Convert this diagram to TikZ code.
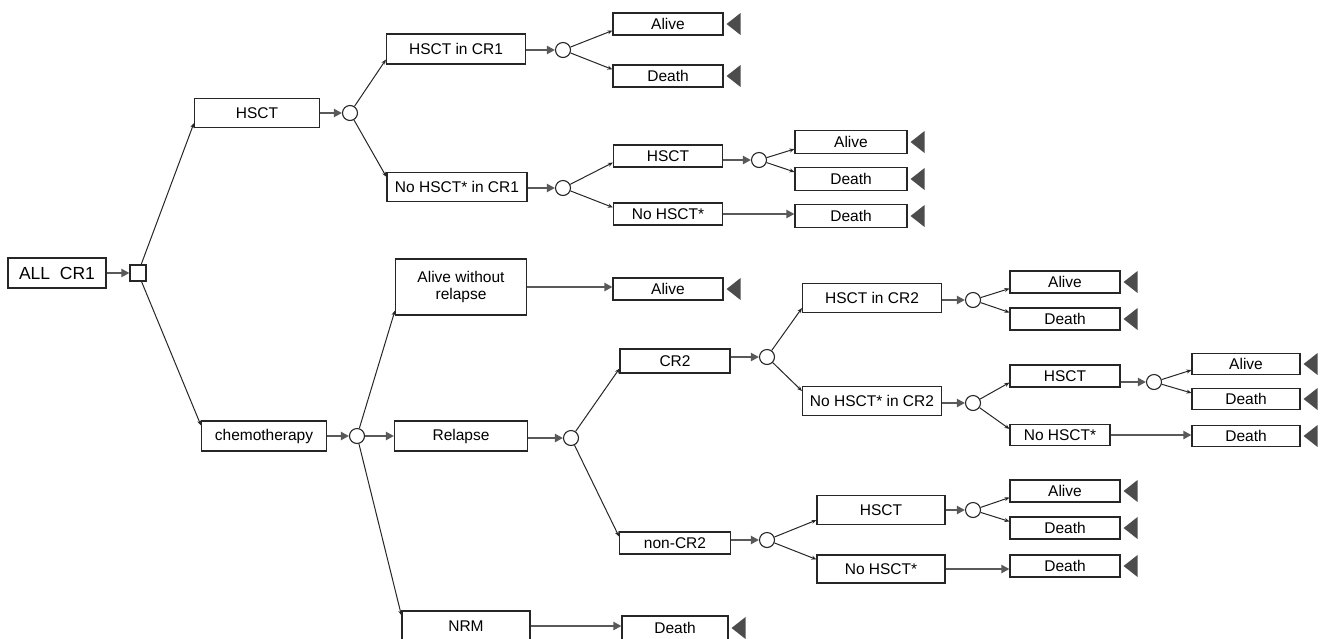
\documentclass[tikz,border=0pt]{standalone}
\usepackage{fontspec}
\setmainfont{Liberation Sans}
\usetikzlibrary{arrows.meta}
\begin{document}
\begin{tikzpicture}[x=1pt,y=-1pt,
  box/.style={draw=black!85,line width=1.1pt,rectangle,inner sep=0pt,minimum height=22pt,
    font=\fontsize{15.5}{17}\selectfont,align=center},
  chance/.style={draw=black!85,line width=1.1pt,circle,fill=white,minimum size=15pt,inner sep=0pt},
  decision/.style={draw=black!85,line width=1.1pt,rectangle,fill=white,minimum size=16pt,inner sep=0pt},
  thinarr/.style={draw=black!85,line width=1pt,-{Stealth[length=5pt,width=4pt]}},
  thickarr/.style={draw=black!65,line width=2.8pt,-{Triangle[length=8pt,width=8pt]}},
  term/.style={fill=black!70}]
\useasboundingbox (0,0) rectangle (1324,638);
% level 0
\node[box,minimum width=98,minimum height=30,font=\fontsize{17.5}{19}\selectfont] (all) at (57,273) {ALL\ \ CR1};
\node[decision] (sq) at (138,273) {};
% HSCT branch
\node[box,minimum width=125,minimum height=29] (hsct1) at (257,113) {HSCT};
\node[chance] (c1) at (350,113) {};
\node[box,minimum width=139,minimum height=30] (hcr1) at (456,49) {HSCT in CR1};
\node[chance] (c2) at (563,50) {};
\node[box,minimum width=110] (a1) at (668,24) {Alive};
\node[box,minimum width=110] (d1) at (668,76) {Death};
\node[box,minimum width=140,minimum height=29] (nhcr1) at (457,187) {No HSCT* in CR1};
\node[chance] (c3) at (563,188) {};
\node[box,minimum width=109] (h2) at (668,156) {HSCT};
\node[chance] (c4) at (759,160) {};
\node[box,minimum width=112,minimum height=23] (a2) at (851,142) {Alive};
\node[box,minimum width=112,minimum height=23] (d2) at (851,179) {Death};
\node[box,minimum width=109] (nh2) at (668,214) {No HSCT*};
\node[box,minimum width=112,minimum height=23] (d3) at (851,216) {Death};
% chemotherapy branch
\node[box,minimum width=125,minimum height=30] (chemo) at (264,436) {chemotherapy};
\node[chance] (c5) at (357,436) {};
\node[box,minimum width=131,minimum height=56] (awr) at (461,287) {Alive without\\relapse};
\node[box,minimum width=110] (a3) at (668,289) {Alive};
\node[box,minimum width=133,minimum height=30] (rel) at (461,436) {Relapse};
\node[chance] (c6) at (571,438) {};
\node[box,minimum width=128,minimum height=30] (nrm) at (466,626) {NRM};
\node[box,minimum width=106,minimum height=24] (d4) at (675,628) {Death};
% CR2
\node[box,minimum width=110,minimum height=24] (cr2) at (675,361) {CR2};
\node[chance] (c7) at (767,357) {};
\node[box,minimum width=139,minimum height=29] (hcr2) at (872,298) {HSCT in CR2};
\node[chance] (c8) at (973,300) {};
\node[box,minimum width=110] (a4) at (1065,282) {Alive};
\node[box,minimum width=110] (d5) at (1065,319) {Death};
\node[box,minimum width=139,minimum height=29] (nhcr2) at (872,401) {No HSCT* in CR2};
\node[chance] (c9) at (973,403) {};
\node[box,minimum width=110] (h3) at (1065,376) {HSCT};
\node[chance] (c10) at (1154,382) {};
\node[box,minimum width=108,minimum height=21] (a5) at (1246,364) {Alive};
\node[box,minimum width=108,minimum height=21] (d6) at (1246,399) {Death};
\node[box,minimum width=100,minimum height=21] (nh3) at (1060,435) {No HSCT*};
\node[box,minimum width=108,minimum height=21] (d7) at (1246,436) {Death};
% non-CR2
\node[box,minimum width=111] (ncr2) at (675,543) {non-CR2};
\node[chance] (c11) at (767,540) {};
\node[box,minimum width=128,minimum height=29] (h4) at (881,510) {HSCT};
\node[chance] (c12) at (973,510) {};
\node[box,minimum width=110] (a6) at (1065,491) {Alive};
\node[box,minimum width=110] (d8) at (1065,528) {Death};
\node[box,minimum width=128,minimum height=28] (nh4) at (881,569) {No HSCT*};
\node[box,minimum width=110] (d9) at (1065,566) {Death};
% thick connectors
\foreach \a/\b in {all/sq,hsct1/c1,hcr1/c2,nhcr1/c3,h2/c4,chemo/c5,rel/c6,cr2/c7,hcr2/c8,nhcr2/c9,h3/c10,ncr2/c11,h4/c12}
  \draw[thickarr] (\a.east |- \b.west) -- (\b.west);
\foreach \a/\b in {nh2/d3,awr/a3,nrm/d4,nh3/d7,nh4/d9}
  \draw[thickarr] (\a.east) -- (\a.east -| \b.west);
\draw[thickarr] (c5.east) -- (rel.west);
% thin branches: upward
\foreach \a/\b in {sq/hsct1,c1/hcr1,c2/a1,c3/h2,c4/a2,c5/awr,c6/cr2,c7/hcr2,c8/a4,c9/h3,c10/a5,c11/h4,c12/a6}
  \draw[thinarr] (\a) -- ([yshift=5pt]\b.south west);
% thin branches: downward
\foreach \a/\b in {sq/chemo,c1/nhcr1,c2/d1,c3/nh2,c4/d2,c5/nrm,c6/ncr2,c7/nhcr2,c8/d5,c9/nh3,c10/d6,c11/nh4,c12/d8}
  \draw[thinarr] (\a) -- ([yshift=-5pt]\b.north west);
% terminal triangles
\foreach \n in {a1,d1,a2,d2,d3,a3,d4,a4,d5,a5,d6,d7,a6,d8,d9}
  \fill[term] ([xshift=3pt]\n.east) -- ++(14,-11) -- ++(0,22) -- cycle;
\end{tikzpicture}
\end{document}
